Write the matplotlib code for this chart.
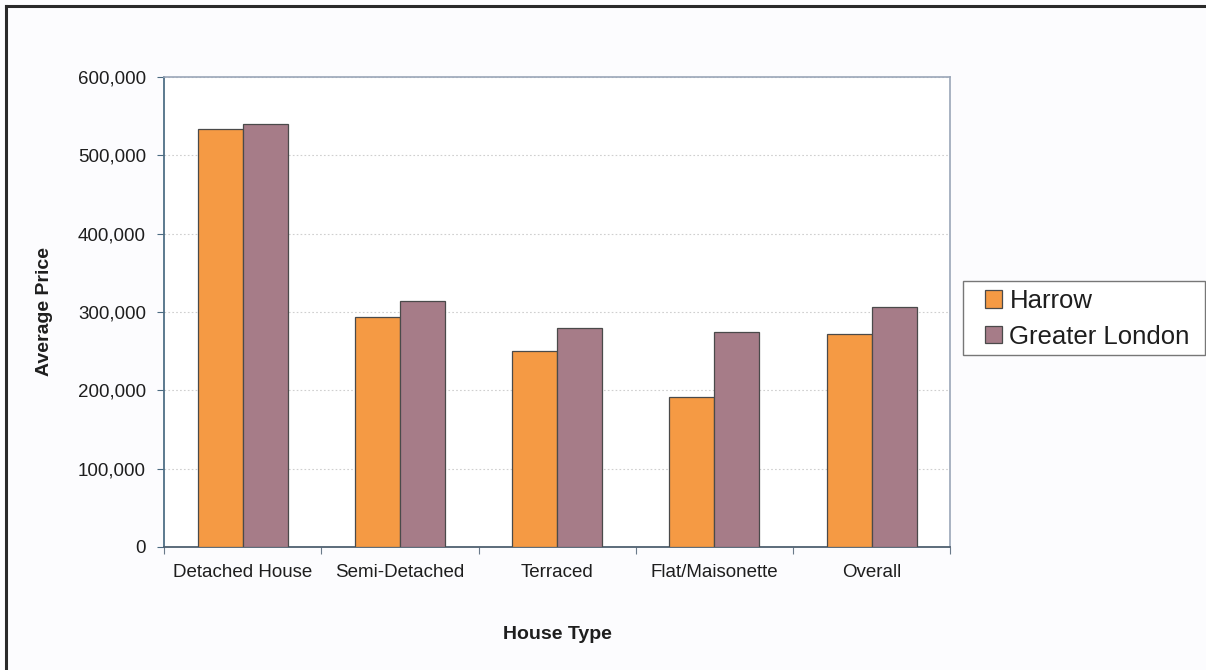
import numpy as np
import matplotlib
matplotlib.use('Agg')
import matplotlib.pyplot as plt
from matplotlib.lines import Line2D
from matplotlib.patches import Rectangle
from matplotlib.ticker import FuncFormatter

plt.rcParams['font.family'] = ['Liberation Sans', 'DejaVu Sans']

house_types = ['Detached House', 'Semi-Detached', 'Terraced', 'Flat/Maisonette', 'Overall']
harrow = [533000, 294000, 250000, 192000, 272000]
greater_london = [540000, 314000, 280000, 274000, 306000]
series_names = ['Harrow', 'Greater London']

W, H = 1206, 670
fig = plt.figure(figsize=(W / 100, H / 100), dpi=100, facecolor='#fcfcfe')
ax = fig.add_axes([0.136, 0.1836, 0.652, 0.7015])
ax.set_facecolor('white')

x = np.arange(len(house_types))
w = 0.286
ax.bar(x - w / 2, harrow, w, color='#f59a44', edgecolor='#4a4a4a', linewidth=0.9,
       label=series_names[0], zorder=3)
ax.bar(x + w / 2, greater_london, w, color='#a67c88', edgecolor='#4a4a4a', linewidth=0.9,
       label=series_names[1], zorder=3)

ax.set_xlim(-0.5, len(house_types) - 0.5)
ax.set_ylim(0, 600000)
ax.set_yticks(np.arange(0, 600001, 100000))
ax.yaxis.set_major_formatter(FuncFormatter(lambda v, p: f'{int(v):,}'))
ax.grid(axis='y', color='#cfcfcf', linestyle=(0, (1.5, 2)), linewidth=0.8, zorder=0)

# category labels sit between the boundary ticks
ax.set_xticks(np.arange(-0.5, len(house_types), 1.0))
ax.set_xticklabels([])
ax.set_xticks(x, minor=True)
ax.set_xticklabels(house_types, minor=True)
ax.tick_params(axis='x', which='major', length=5, color='#6a7a8a', direction='out')
ax.tick_params(axis='x', which='minor', length=0, pad=12, labelsize=13.5, labelcolor='#1e1e1e')
ax.tick_params(axis='y', length=5, color='#4a6a80', direction='out', pad=8,
               labelsize=13.5, labelcolor='#1e1e1e')

for side in ['top', 'right']:
    ax.spines[side].set_color('#9aa6b8')
    ax.spines[side].set_linewidth(1.2)
ax.spines['left'].set_color('#4f6f86')
ax.spines['left'].set_linewidth(1.3)
ax.spines['bottom'].set_color('#4f6070')
ax.spines['bottom'].set_linewidth(1.3)

ax.set_xlabel('House Type', fontsize=14, fontweight='bold', color='#1e1e1e', labelpad=33)
ax.set_ylabel('Average Price', fontsize=14, fontweight='bold', color='#1e1e1e', labelpad=18)

# legend box drawn separately so the padding can be wider than it is tall
fig.add_artist(Rectangle((963 / W, 1 - 355 / H), 242 / W, 74 / H, transform=fig.transFigure,
                         facecolor='white', edgecolor='#777777', linewidth=1.0))
leg = fig.legend(loc='upper left', bbox_to_anchor=(985 / W, 1 - 289 / H),
                 fontsize=18.5, frameon=False,
                 handlelength=0.65, handleheight=0.65, handletextpad=0.3,
                 borderpad=0.0, labelspacing=0.45, borderaxespad=0)
for t in leg.get_texts():
    t.set_color('#1e1e1e')

# dark frame along the top and left edges
fig.add_artist(Line2D([6 / W, 6 / W], [0, 1 - 6 / H], color='#2a2a2a',
                      linewidth=2.2, transform=fig.transFigure))
fig.add_artist(Line2D([6 / W, 1], [1 - 6 / H, 1 - 6 / H], color='#2a2a2a',
                      linewidth=2.2, transform=fig.transFigure))

fig.savefig('out.png', dpi=100, facecolor=fig.get_facecolor())
